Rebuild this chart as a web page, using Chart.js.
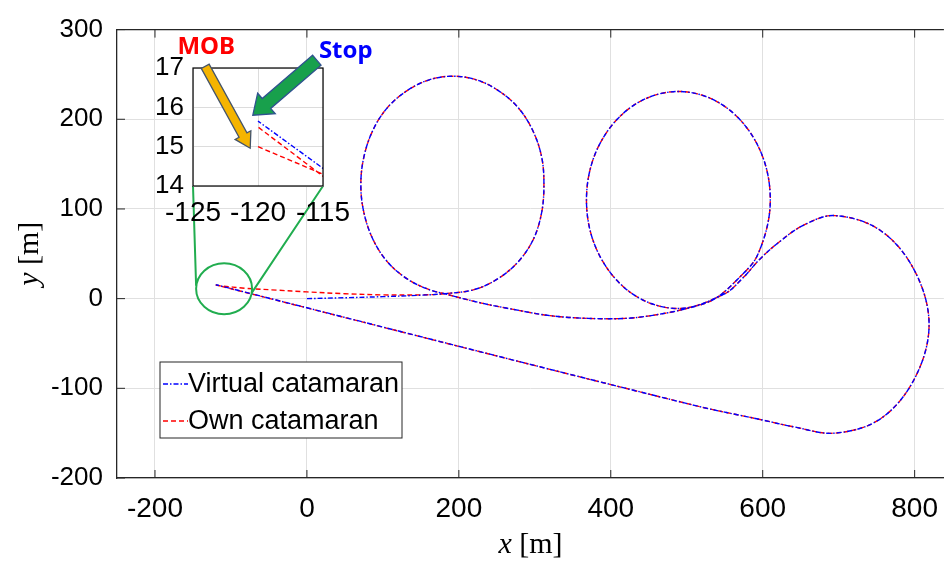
<!DOCTYPE html>
<html>
<head>
<meta charset="utf-8">
<script src="https://cdn.jsdelivr.net/npm/chart.js@4.4.1/dist/chart.umd.min.js"></script>
<style>
  html, body { margin: 0; padding: 0; background: #fff; }
  #wrap { position: relative; width: 952px; height: 561px; overflow: hidden; }
  #wrap canvas { position: absolute; }
  #main { left: 0; top: 0; }
  #inset { left: 110px; top: 20px; }
</style>
</head>
<body>
<div id="wrap">
  <canvas id="main" width="952" height="561"></canvas>
  <canvas id="inset" width="280" height="220"></canvas>
</div>
<script>
// start of each track
const virtualStartX = [0, 50, 100, 150];
const virtualStartY = [0, 1, 2.2, 3.8];
const ownStartX = [-120, -115, -80, -40, 0, 50, 100, 150];
const ownStartY = [15.0, 14.3, 11.5, 9.5, 7.5, 5.5, 4.2, 4.2];

// shared part: two loops, the big turn and the straight run back
const loopX = [181, 220, 251, 278, 298, 309, 312, 309, 297, 278, 252, 223, 192, 161, 132, 106, 87, 75, 71, 75,
  87, 106, 132, 161, 181, 230, 272,
  320, 370, 420, 460, 500, 535, 565, 594, 610, 594, 549, 489, 429, 384, 368, 384, 429, 489,
  549, 575, 595, 620, 654, 695, 755, 800, 819, 800, 755, 695, 641, 598, 510];
const loopY = [5.5, 10, 22, 41, 66, 96, 127, 158, 188, 213, 232, 244, 248, 244, 232, 213, 188, 158, 127, 96,
  66, 41, 22, 10, 5.5, -5, -12,
  -19, -22, -22, -18, -11, -1, 20, 50, 110, 170, 215, 231, 215, 170, 110, 50, 5, -11,
  5, 24, 43, 62, 82, 92.6, 76, 31, -29, -89, -134, -150, -143, -135, -119];

// end near the MOB point
const virtualEndX = [-115, -120];
const virtualEndY = [14.45, 15.65];
const ownEndX = [-115, -120];
const ownEndY = [14.25, 15.5];

const xTicks = [-200, 0, 200, 400, 600, 800];
const yTicks = [-200, -100, 0, 100, 200, 300];
const insetXTicks = [-125, -120, -115];
const insetYTicks = [14, 15, 16, 17];

const INSET_LEFT = 110, INSET_TOP = 20;

function toPoints(xs, ys) {
  return xs.map((v, i) => ({ x: v, y: ys[i] }));
}
const virtualPts = toPoints(virtualStartX.concat(loopX, virtualEndX), virtualStartY.concat(loopY, virtualEndY));
const ownPts = toPoints(ownStartX.concat(loopX, ownEndX), ownStartY.concat(loopY, ownEndY));

const BLUE = '#0000ff', RED = '#ff0000', GREEN = '#21ad4f';
const blueDash = [5, 2, 1.5, 2];
const redDash = [5, 3];

function makeDatasets(tension) {
  return [
    { label: 'Virtual catamaran', data: virtualPts, showLine: true, borderColor: BLUE, borderWidth: 1.4,
      borderDash: blueDash, pointRadius: 0, tension: tension, fill: false },
    { label: 'Own catamaran', data: ownPts, showLine: true, borderColor: RED, borderWidth: 1.4,
      borderDash: redDash, pointRadius: 0, tension: tension, fill: false }
  ];
}

function drawArrow(ctx, x0, y0, x1, y1, w, hw, hl, fill, stroke) {
  const dx = x1 - x0, dy = y1 - y0, len = Math.hypot(dx, dy);
  const ux = dx / len, uy = dy / len, nx = -uy, ny = ux;
  const bx = x1 - ux * hl, by = y1 - uy * hl;
  ctx.beginPath();
  ctx.moveTo(x0 + nx * w, y0 + ny * w);
  ctx.lineTo(bx + nx * w, by + ny * w);
  ctx.lineTo(bx + nx * hw, by + ny * hw);
  ctx.lineTo(x1, y1);
  ctx.lineTo(bx - nx * hw, by - ny * hw);
  ctx.lineTo(bx - nx * w, by - ny * w);
  ctx.lineTo(x0 - nx * w, y0 - ny * w);
  ctx.closePath();
  ctx.fillStyle = fill; ctx.fill();
  ctx.strokeStyle = stroke; ctx.lineWidth = 1.3; ctx.stroke();
}

// inset: white box, frame, arrows and labels
const insetDecor = {
  id: 'insetDecor',
  beforeDraw(chart) {
    const { ctx, chartArea: a } = chart;
    ctx.save();
    ctx.fillStyle = '#fff';
    ctx.fillRect(a.left, a.top, a.right - a.left, a.bottom - a.top);
    ctx.restore();
  },
  afterDraw(chart) {
    const { ctx, chartArea: a, scales: { x, y } } = chart;
    ctx.save();
    ctx.strokeStyle = '#000'; ctx.lineWidth = 1.2;
    ctx.strokeRect(a.left, a.top, a.right - a.left, a.bottom - a.top);
    // MOB arrow
    const mx = x.getPixelForValue(-120.6), my = y.getPixelForValue(14.96);
    drawArrow(ctx, mx - 45, my - 82, mx, my, 4.5, 9, 15, '#f5b400', '#44546a');
    // Stop arrow
    const sx = x.getPixelForValue(-120.4), sy = y.getPixelForValue(15.8);
    drawArrow(ctx, sx + 64, sy - 55, sx, sy, 6.5, 13.5, 18, '#18a04c', '#2f528f');
    ctx.font = 'bold 24px "Noto Sans", sans-serif';
    ctx.textAlign = 'center'; ctx.textBaseline = 'middle';
    ctx.fillStyle = RED; ctx.fillText('MOB', mx - 44, my - 101);
    ctx.fillStyle = BLUE; ctx.fillText('Stop', sx + 93, sy - 64);
    ctx.restore();
  }
};

const insetChart = new Chart(document.getElementById('inset'), {
  type: 'scatter',
  data: { datasets: makeDatasets(0) },
  options: {
    responsive: false, animation: false, events: [],
    layout: { padding: { top: 48, right: 67, left: 0, bottom: 0 } },
    plugins: { legend: { display: false }, tooltip: { enabled: false } },
    scales: {
      x: {
        type: 'linear', min: -125, max: -115,
        afterBuildTicks: s => { s.ticks = insetXTicks.map(v => ({ value: v })); },
        afterFit: s => { s.height = 54; },
        grid: { color: '#dcdcdc', drawTicks: false },
        border: { display: false },
        ticks: { color: '#000', padding: 10, maxRotation: 0, font: { family: '"Liberation Sans", Arial', size: 28 } }
      },
      y: {
        type: 'linear', min: 14, max: 17,
        afterBuildTicks: s => { s.ticks = insetYTicks.map(v => ({ value: v })); },
        afterFit: s => { s.width = 83; },
        grid: { color: '#dcdcdc', drawTicks: false },
        border: { display: false },
        ticks: { color: '#000', padding: 9, font: { family: '"Liberation Sans", Arial', size: 26 } }
      }
    }
  },
  plugins: [insetDecor]
});

function drawMixed(ctx, parts, cx, cy) {
  let total = 0;
  parts.forEach(p => { ctx.font = p.font; p.w = ctx.measureText(p.text).width; total += p.w; });
  let px = cx - total / 2;
  ctx.textAlign = 'left'; ctx.textBaseline = 'middle';
  parts.forEach(p => { ctx.font = p.font; ctx.fillText(p.text, px, cy); px += p.w; });
}

const mainDecor = {
  id: 'mainDecor',
  afterDraw(chart) {
    const { ctx, chartArea: a, scales: { x, y } } = chart;
    ctx.save();
    // top frame line and inward ticks
    ctx.strokeStyle = '#262626'; ctx.lineWidth = 1.3;
    ctx.beginPath(); ctx.moveTo(a.left, a.top); ctx.lineTo(a.right, a.top); ctx.stroke();
    ctx.lineWidth = 1;
    ctx.beginPath();
    xTicks.forEach(v => {
      const px = x.getPixelForValue(v);
      ctx.moveTo(px, a.bottom); ctx.lineTo(px, a.bottom - 8);
      ctx.moveTo(px, a.top); ctx.lineTo(px, a.top + 8);
    });
    yTicks.forEach(v => {
      const py = y.getPixelForValue(v);
      ctx.moveTo(a.left, py); ctx.lineTo(a.left + 8, py);
    });
    ctx.stroke();

    // axis titles
    ctx.fillStyle = '#000';
    const it = 'italic 30px "Liberation Serif", serif', up = '30px "Liberation Serif", serif';
    drawMixed(ctx, [{ text: 'x', font: it }, { text: ' [m]', font: up }], (a.left + a.right) / 2, 545);
    ctx.save();
    ctx.translate(30, (a.top + a.bottom) / 2);
    ctx.rotate(-Math.PI / 2);
    drawMixed(ctx, [{ text: 'y', font: it }, { text: ' [m]', font: up }], 0, 0);
    ctx.restore();

    // legend
    const lx = 160, ly = 362, lw = 242, lh = 76;
    ctx.fillStyle = '#fff'; ctx.fillRect(lx, ly, lw, lh);
    ctx.strokeStyle = '#262626'; ctx.lineWidth = 1; ctx.strokeRect(lx, ly, lw, lh);
    ctx.font = '27px "Liberation Sans", Arial';
    ctx.textAlign = 'left'; ctx.textBaseline = 'middle';
    chart.data.datasets.forEach((ds, i) => {
      const rowY = ly + 22 + i * 37;
      ctx.strokeStyle = ds.borderColor; ctx.lineWidth = 1.4; ctx.setLineDash(ds.borderDash);
      ctx.beginPath(); ctx.moveTo(lx + 3, rowY); ctx.lineTo(lx + 28, rowY); ctx.stroke();
      ctx.setLineDash([]);
      ctx.fillStyle = '#000'; ctx.fillText(ds.label, lx + 28, rowY + 1);
    });

    // zoom circle and connectors to the inset
    const cx = x.getPixelForValue(-109), cy = y.getPixelForValue(11);
    const rx = 28, ry = 25.5;
    ctx.strokeStyle = GREEN; ctx.lineWidth = 2;
    ctx.beginPath(); ctx.ellipse(cx, cy, rx, ry, 0, 0, Math.PI * 2); ctx.stroke();
    const ia = insetChart.chartArea;
    ctx.beginPath();
    ctx.moveTo(cx - rx, cy - 3); ctx.lineTo(INSET_LEFT + ia.left, INSET_TOP + ia.bottom);
    ctx.moveTo(cx + rx * 0.98, cy + ry * 0.17); ctx.lineTo(INSET_LEFT + ia.right, INSET_TOP + ia.bottom);
    ctx.stroke();
    ctx.restore();
  }
};

new Chart(document.getElementById('main'), {
  type: 'scatter',
  data: { datasets: makeDatasets(0.35) },
  options: {
    responsive: false, animation: false, events: [],
    layout: { padding: { top: 25, right: 0, left: 0, bottom: 0 } },
    plugins: { legend: { display: false }, tooltip: { enabled: false } },
    scales: {
      x: {
        type: 'linear', min: -250, max: 838.5,
        afterBuildTicks: s => { s.ticks = xTicks.map(v => ({ value: v })); },
        afterFit: s => { s.height = 83; },
        grid: { color: '#e0e0e0', drawTicks: false },
        border: { color: '#262626', width: 1.3 },
        ticks: { color: '#000', padding: 14, maxRotation: 0, font: { family: '"Liberation Sans", Arial', size: 28 } }
      },
      y: {
        type: 'linear', min: -200, max: 300,
        afterBuildTicks: s => { s.ticks = yTicks.map(v => ({ value: v })); },
        afterFit: s => { s.width = 117; },
        grid: { color: '#e0e0e0', drawTicks: false },
        border: { color: '#262626', width: 1.3 },
        ticks: { color: '#000', padding: 14, font: { family: '"Liberation Sans", Arial', size: 26 } }
      }
    }
  },
  plugins: [mainDecor]
});
</script>
</body>
</html>
